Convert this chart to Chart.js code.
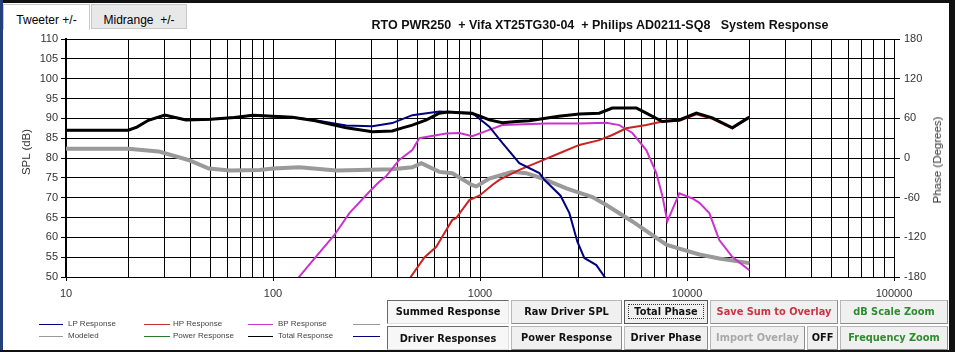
<!DOCTYPE html>
<html>
<head>
<meta charset="utf-8">
<script src="https://cdn.jsdelivr.net/npm/chart.js@4.4.0/dist/chart.umd.min.js"></script>
<style>
  html, body { margin: 0; padding: 0; background: #fff; }
  #wrap { position: relative; width: 955px; height: 352px; overflow: hidden; background: #fff; font-family: "Liberation Sans", Arial, sans-serif; }
  #chartBox { position: absolute; left: 0; top: 0; width: 955px; height: 305px; }
  .abs { position: absolute; }
  .tab { position: absolute; top: 4px; height: 26px; border: 1px solid #c8c8c8; font-size: 12px; line-height: 31px; text-align: center; color: #000; box-sizing: border-box; }
  .btn { position: absolute; box-sizing: border-box; background: #f0f0f0; border: 1px solid #b8b8b8; border-right-color: #8c8c8c; border-bottom-color: #8c8c8c;
         font-family: "DejaVu Sans", Tahoma, sans-serif; font-weight: bold; font-size: 9.8px; text-align: center; color: #111; white-space: nowrap; }
  .btn.down { background: #f7f7f7; border-top-color: #6a6a6a; border-left-color: #6a6a6a; border-right-color: #e0e0e0; border-bottom-color: #e0e0e0; }
  .btn span.focus { border: 1px dotted #333; padding: 1px 5px; }
  .leg { position: absolute; font-size: 8px; color: #444; white-space: nowrap; }
  .legline { position: absolute; height: 1px; }
  .vt { position: absolute; transform: translate(-50%, -50%) rotate(-90deg); font-size: 11.5px; color: #333; white-space: nowrap; }
</style>
</head>
<body>
<div id="wrap">
  <div id="chartBox"><canvas id="spl"></canvas></div>

  <div class="tab" style="left:3px; width:87px; background:#fff; border-bottom-color:#fff;">Tweeter +/-</div>
  <div class="tab" style="left:91px; width:96px; background:#e8e8e8; height:25px;">Midrange&nbsp;&nbsp;+/-</div>

  <div class="abs" style="left:340px; top:18px; width:520px; text-align:center; font-weight:bold; font-size:12.5px; white-space:pre; color:#111;">RTO PWR250  + Vifa XT25TG30-04  + Philips AD0211-SQ8   System Response</div>

  <div class="vt" style="left:26px; top:152px;">SPL (dB)</div>
  <div class="vt" style="left:937px; top:160px;">Phase (Degrees)</div>

  <div class="legline" style="left:39px; top:324px; width:24px; background:#000080;"></div>
  <div class="leg" style="left:68px; top:319px;">LP Response</div>
  <div class="legline" style="left:144px; top:324px; width:26px; background:#c03030;"></div>
  <div class="leg" style="left:173px; top:319px;">HP Response</div>
  <div class="legline" style="left:248px; top:324px; width:25px; background:#cc33cc;"></div>
  <div class="leg" style="left:278px; top:319px;">BP Response</div>
  <div class="legline" style="left:353px; top:324px; width:27px; background:#999;"></div>
  <div class="legline" style="left:39px; top:336px; width:24px; background:#999;"></div>
  <div class="leg" style="left:68px; top:331px;">Modeled</div>
  <div class="legline" style="left:144px; top:336px; width:26px; background:#2a7a2a;"></div>
  <div class="leg" style="left:173px; top:331px;">Power Response</div>
  <div class="legline" style="left:248px; top:336px; width:25px; background:#000;"></div>
  <div class="leg" style="left:278px; top:331px;">Total Response</div>
  <div class="legline" style="left:353px; top:336px; width:27px; background:#000080;"></div>

  <div class="btn down" style="left:387px; top:300px; width:122px; height:24px; line-height:22px;">Summed Response</div>
  <div class="btn" style="left:511px; top:300px; width:111px; height:24px; line-height:22px;">Raw Driver SPL</div>
  <div class="btn" style="left:624px; top:300px; width:84px; height:24px; line-height:22px; border-color:#555;"><span class="focus">Total Phase</span></div>
  <div class="btn" style="left:710px; top:300px; width:128px; height:24px; line-height:22px; color:#cc3344;">Save Sum to Overlay</div>
  <div class="btn" style="left:840px; top:300px; width:108px; height:24px; line-height:22px; color:#2e8b2e;">dB Scale Zoom</div>

  <div class="btn down" style="left:387px; top:326px; width:122px; height:24px; line-height:24px;">Driver Responses</div>
  <div class="btn" style="left:511px; top:326px; width:111px; height:24px; line-height:22px;">Power Response</div>
  <div class="btn" style="left:624px; top:326px; width:84px; height:24px; line-height:22px;">Driver Phase</div>
  <div class="btn" style="left:710px; top:326px; width:95px; height:24px; line-height:22px; color:#a8a8a8;">Import Overlay</div>
  <div class="btn" style="left:807px; top:326px; width:31px; height:24px; line-height:22px;">OFF</div>
  <div class="btn" style="left:840px; top:326px; width:108px; height:24px; line-height:22px; color:#2e8b2e;">Frequency Zoom</div>

  <div class="abs" style="left:0; top:0; width:955px; height:3px; background:#111;"></div>
  <div class="abs" style="left:0; top:0; width:3px; height:352px; background:#23407a;"></div>
  <div class="abs" style="left:949px; top:0; width:6px; height:352px; background:#111;"></div>
  <div class="abs" style="left:0; top:350px; width:955px; height:2px; background:#111;"></div>
</div>

<script>
// frequencies (Hz) and levels (dB)
const totalFreq = [10, 20, 22, 25, 30, 38, 50, 65, 80, 100, 124, 160, 226, 302, 377, 422, 471, 551, 636, 700, 800, 918, 993, 1109, 1282, 1500, 1731, 2400, 3020, 3770, 4355, 5690, 6357, 7600, 9183, 11100, 13250, 16550, 20000];
const totalSpl  = [87, 87, 87.8, 89.5, 90.8, 89.6, 89.8, 90.2, 90.8, 90.5, 90.3, 89.4, 87.6, 86.6, 86.8, 87.6, 88.3, 89.6, 91.3, 91.6, 91.4, 91.2, 90.6, 89.6, 88.9, 89.2, 89.4, 90.5, 91.1, 91.3, 92.6, 92.6, 91.3, 89.2, 89.6, 91.3, 90.1, 87.6, 90.3];

const lpFreq = [10, 20, 22, 25, 30, 38, 50, 65, 80, 100, 124, 160, 226, 302, 377, 471, 636, 800, 918, 960, 1109, 1282, 1549, 1936, 2046, 2450, 2703, 2954, 3191, 3648, 3990, 4500];
const lpSpl  = [87, 87, 87.8, 89.5, 90.8, 89.6, 89.8, 90.2, 90.8, 90.5, 90.3, 89.5, 88.2, 88, 88.8, 90.8, 91.7, 91.5, 91.4, 90.5, 87.9, 83.8, 78.7, 76.2, 74.5, 70.5, 66.1, 58.9, 54.8, 53, 50.1, 47];

const hpFreq = [430, 464, 540, 615, 658, 735, 766, 888, 993, 1146, 1240, 1549, 1936, 2417, 3020, 3770, 4355, 5090, 6357, 7600, 9183, 11100, 13250, 16550, 20000];
const hpSpl  = [47, 50.1, 55, 57.6, 60.2, 64.4, 64.8, 69.4, 70.5, 73.2, 74.5, 77, 79.1, 81.2, 83.3, 84.5, 85.8, 87.5, 88.3, 89.2, 89.4, 91, 89.9, 87.5, 90.2];

const bpFreq = [120, 134, 161, 198, 234, 292, 326, 351, 407, 471, 509, 685, 794, 918, 1109, 1282, 2094, 3020, 4077, 4709, 5445, 6357, 7110, 7600, 8035, 9183, 10620, 11480, 12820, 14320, 16550, 20000];
const bpSpl  = [47, 50.1, 55.1, 60.6, 66.1, 71.5, 74, 75.3, 79.5, 82, 85, 86.2, 86.3, 85.5, 87.1, 88.3, 88.7, 88.7, 88.9, 88.3, 86.3, 82, 76.2, 70.5, 64, 71.1, 69.8, 68.7, 66.1, 59.3, 55.1, 51.7];

// total phase (degrees, right axis)
const phaseFreq = [10, 20, 28, 39, 49, 62, 86, 100, 134, 202, 377, 471, 521, 636, 735, 918, 960, 1109, 1432, 1674, 2000, 2612, 3490, 4077, 5445, 7945, 9183, 11480, 14320, 20000];
const phaseDeg  = [14, 14, 10, -3, -16, -19, -18, -16, -14, -19, -17, -14, -8, -21, -23, -41, -43, -31, -21, -23, -31, -46, -59, -71, -96, -131, -137, -146, -152, -159];

// x-axis grid: 1..9 per decade
const freqTicks = [];
for (let d = 10; d < 100000; d *= 10) {
  for (let m = 1; m <= 9; m++) freqTicks.push(d * m);
}
freqTicks.push(100000);

const isDecade = v => Math.abs(Math.log10(v) - Math.round(Math.log10(v))) < 1e-9;
const pts = (f, v) => f.map((x, i) => ({ x, y: v[i] }));
const tickFont = { family: "'Liberation Sans', Arial, sans-serif", size: 11 };

const line = (label, data, color, width, axis) => ({
  label, data, borderColor: color, borderWidth: width, yAxisID: axis,
  pointRadius: 0, tension: 0, fill: false
});

new Chart(document.getElementById("spl"), {
  type: "line",
  data: {
    datasets: [
      line("Total Response", pts(totalFreq, totalSpl), "#000000", 3, "y"),
      line("LP Response", pts(lpFreq, lpSpl), "#000080", 2, "y"),
      line("HP Response", pts(hpFreq, hpSpl), "#cc2222", 2, "y"),
      line("BP Response", pts(bpFreq, bpSpl), "#cc33cc", 2, "y"),
      line("Total Phase", pts(phaseFreq, phaseDeg), "#9a9a9a", 4, "y2")
    ]
  },
  options: {
    responsive: true,
    maintainAspectRatio: false,
    animation: false,
    layout: { padding: { top: 39, left: 0, right: 0, bottom: 0 } },
    plugins: { legend: { display: false }, tooltip: { enabled: false } },
    scales: {
      x: {
        type: "logarithmic", min: 10, max: 100000,
        afterBuildTicks: s => { s.ticks = freqTicks.map(v => ({ value: v })); },
        afterFit: s => { s.height = 28; },
        ticks: { autoSkip: false, maxRotation: 0, color: "#333", font: tickFont, padding: 6,
                 callback: v => isDecade(v) ? String(v) : "" },
        grid: { color: "#000", lineWidth: 1, tickLength: 4,
                tickColor: c => (c.tick && isDecade(c.tick.value)) ? "#000" : "rgba(0,0,0,0)" },
        border: { color: "#000", width: 1 }
      },
      y: {
        position: "left", min: 50, max: 110,
        afterFit: s => { s.width = 66; },
        ticks: { stepSize: 5, color: "#333", font: tickFont, padding: 3 },
        grid: { color: "#000", lineWidth: 1, tickLength: 5 },
        border: { color: "#000", width: 2 }
      },
      y2: {
        position: "right", min: -180, max: 180,
        afterFit: s => { s.width = 61; },
        ticks: { stepSize: 60, color: "#333", font: tickFont, padding: 4 },
        grid: { drawOnChartArea: false, color: "#000", tickLength: 6 },
        border: { color: "#000", width: 1 }
      }
    }
  }
});
</script>
</body>
</html>
